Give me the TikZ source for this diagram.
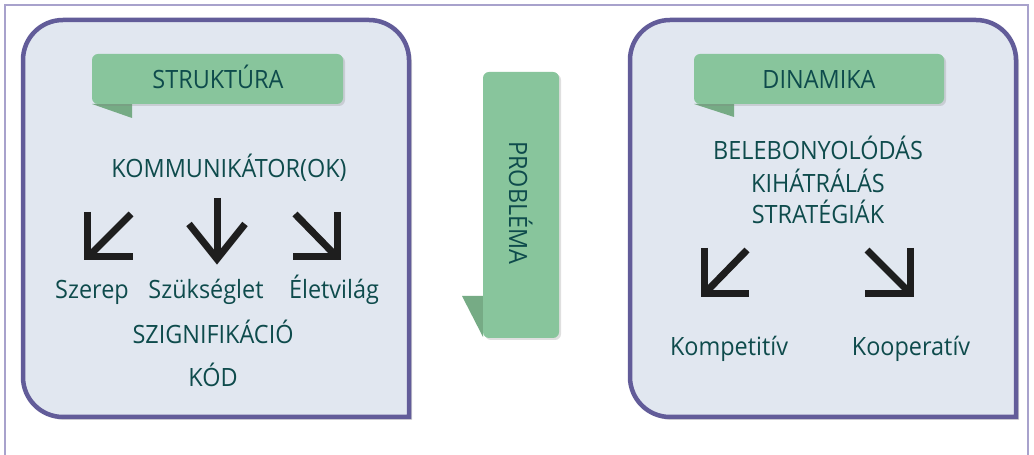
\documentclass[tikz,border=0pt]{standalone}
\usepackage{fontspec}
\setmainfont{Open Sans}[FakeStretch=0.93]
\usetikzlibrary{shadows}
\definecolor{frame}{HTML}{A8A2CC}
\definecolor{boxline}{HTML}{625C99}
\definecolor{boxfill}{HTML}{E1E7F0}
\definecolor{lbl}{HTML}{88C59C}
\definecolor{fold}{HTML}{76AB85}
\definecolor{txt}{HTML}{0E4B4C}
\definecolor{arr}{HTML}{1E1E1E}
\tikzset{
  bigbox/.style={draw=boxline, line width=4.5pt, fill=boxfill,
    drop shadow={opacity=0.3, shadow xshift=3pt, shadow yshift=-3pt}},
  lblbox/.style={fill=lbl, rounded corners=6pt,
    drop shadow={opacity=0.25, shadow xshift=2pt, shadow yshift=-2pt}},
  foldtri/.style={fill=fold},
  txtnode/.style={text=txt, anchor=base, inner sep=0pt, font=\fontsize{25.2}{30}\selectfont},
  arrline/.style={draw=arr, line width=7pt, miter limit=10, line join=miter, line cap=butt},
}
\begin{document}
\begin{tikzpicture}[x=1pt,y=1pt]
\useasboundingbox (0,0) rectangle (1034,455);
\fill[white] (0,0) rectangle (1034,455);
% outer frame
\draw[frame, line width=2pt] (5,0) -- (5,450) -- (1028,450) -- (1028,0);
% left big box
\path[bigbox] (409,38) -- (409,395) arc[start angle=0,end angle=90,radius=40]
  -- (63,435) arc[start angle=90,end angle=180,radius=40]
  -- (23,78) arc[start angle=180,end angle=270,radius=40] -- cycle;
% right big box
\path[bigbox] (1016,38) -- (1016,395) arc[start angle=0,end angle=90,radius=40]
  -- (670,435) arc[start angle=90,end angle=180,radius=40]
  -- (630,78) arc[start angle=180,end angle=270,radius=40] -- cycle;
% labels
\fill[foldtri] (92,351) -- (132,351) -- (132,337) -- cycle;
\path[lblbox] (92,351) rectangle (343,401);
\node[txtnode] (struktura) at (218,366) {STRUKTÚRA};
\fill[foldtri] (694,351) -- (734,351) -- (734,338) -- cycle;
\path[lblbox] (694,351) rectangle (944,401);
\node[txtnode] (dinamika) at (819,366) {DINAMIKA};
\fill[foldtri] (462,159) -- (483,159) -- (483,118) -- cycle;
\path[lblbox] (483,117) rectangle (559,383);
\node[txtnode, rotate=-90] (problema) at (509,252) {PROBLÉMA};
% left texts
\node[txtnode] (komm) at (229,277) {KOMMUNIKÁTOR(OK)};
\node[txtnode] (szerep) at (92,156) {Szerep};
\node[txtnode] (szuks) at (206,156) {Szükséglet};
\node[txtnode] (elet) at (334,156) {Életvilág};
\node[txtnode] (szign) at (213,111) {SZIGNIFIKÁCIÓ};
\node[txtnode] (kod) at (213,68) {KÓD};
% right texts
\node[txtnode] (beleb) at (818,295) {BELEBONYOLÓDÁS};
\node[txtnode] (kihat) at (818,262) {KIHÁTRÁLÁS};
\node[txtnode] (strat) at (818,231) {STRATÉGIÁK};
\node[txtnode] (kompet) at (729,99) {Kompetitív};
\node[txtnode] (koop) at (911,99) {Kooperatív};
% arrows left box
\draw[arrline] (131,241) -- (90,200);
\draw[arrline] (87.5,243) -- (87.5,198.5) -- (133,198.5);
\draw[arrline] (217,257) -- (217,197);
\draw[arrline] (189,231) -- (217,196) -- (245,231);
\draw[arrline] (295,241) -- (335,200);
\draw[arrline] (337.5,243) -- (337.5,198.5) -- (293,198.5);
% arrows right box
\draw[arrline] (747,205) -- (707,164);
\draw[arrline] (704.5,207) -- (704.5,161.5) -- (749,161.5);
\draw[arrline] (867,205) -- (908,164);
\draw[arrline] (910.5,207) -- (910.5,161.5) -- (865,161.5);
\end{tikzpicture}
\end{document}
